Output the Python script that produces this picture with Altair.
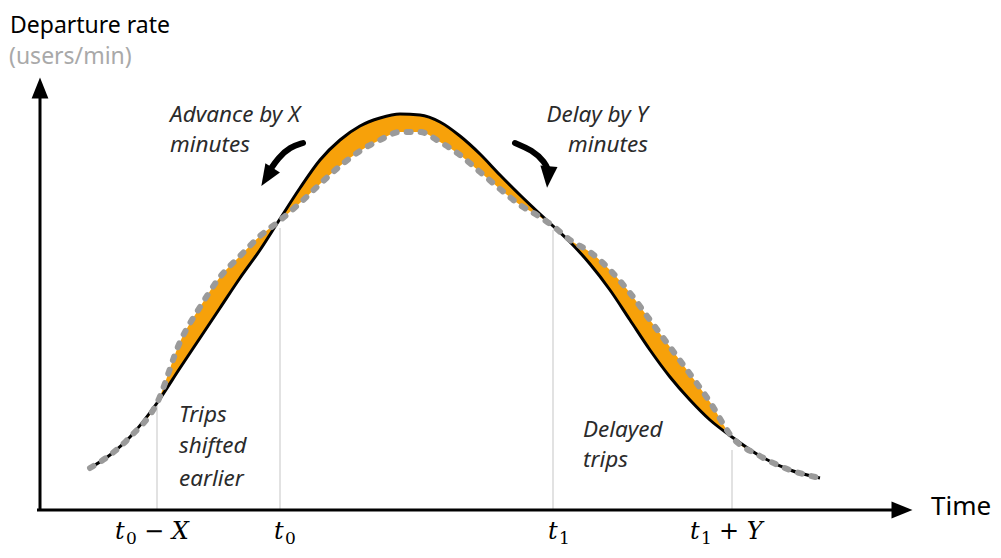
import altair as alt
import pandas as pd

# ---- curve data (time units, rate units) ----
time = [5.0, 7.0, 9.0, 11.7, 14.0, 16.0, 18.0, 20.0, 22.0, 23.8, 26.0, 28.0, 30.0,
        32.0, 34.0, 36.0, 38.0, 40.0, 42.0, 44.0, 46.0, 48.0, 50.0, 51.3, 53.0,
        55.0, 57.0, 59.0, 61.0, 63.0, 65.0, 67.0, 69.2, 72.0, 75.0, 78.0]
rate_original = [4.2, 5.5, 7.3, 10.7, 14.2, 17.2, 20.2, 23.2, 26.0, 28.8, 32.2, 35.0, 37.0,
                 38.4, 39.2, 39.6, 39.5, 38.8, 37.4, 35.6, 33.5, 31.5, 29.6, 28.4, 26.8,
                 24.6, 22.0, 19.0, 16.0, 13.3, 11.0, 9.0, 7.3, 5.4, 4.0, 3.2]
rate_shifted = [4.2, 5.5, 7.3, 10.7, 16.8, 20.3, 23.3, 25.4, 27.4, 28.8, 30.7, 32.6, 34.4,
                35.9, 37.0, 37.8, 37.8, 36.8, 35.5, 33.8, 32.1, 30.5, 29.3, 28.4, 27.0,
                25.8, 24.0, 21.7, 19.0, 16.3, 13.6, 10.8, 7.3, 5.4, 4.0, 3.2]

# ---- marked times on the time axis ----
mark_times = [11.7, 24.0, 51.3, 69.2]
mark_tops = [10.5, 28.2, 28.0, 6.0]
label_left = [7.5, 23.4, 50.8, 65.0]
label_main = ["t", "t", "t", "t"]
label_sub = ["0", "0", "1", "1"]
label_tail = ["− X", "", "", "+ Y"]

# ---- annotation texts ----
note_left_top = ["Advance by X", "minutes"]
note_right_top = ["Delay by Y", "minutes"]
note_left_bottom = ["Trips", "shifted", "earlier"]
note_right_bottom = ["Delayed", "trips"]

# ---- curved arrow paths ----
adv_arrow_t = [26.3, 25.0, 23.8, 23.0]
adv_arrow_r = [36.7, 36.3, 35.2, 34.0]
del_arrow_t = [47.5, 49.2, 50.5, 50.9]
del_arrow_r = [36.7, 36.0, 34.8, 33.8]

X = alt.Scale(domain=[-3.2, 95.3], nice=False, zero=False)
Y = alt.Scale(domain=[-4.0, 50.2], nice=False, zero=False)


def xe(f="t"):
    return alt.X(f"{f}:Q", scale=X, axis=None)


def ye(f="r"):
    return alt.Y(f"{f}:Q", scale=Y, axis=None)


curves = pd.DataFrame({"t": time, "r": rate_original, "r2": rate_shifted})

area = alt.Chart(curves).mark_area(color="#F7A10A", interpolate="monotone", opacity=1).encode(
    x=xe(), y=ye(), y2=alt.Y2("r2:Q"))
line_orig = alt.Chart(curves).mark_line(color="black", strokeWidth=3, interpolate="monotone").encode(
    x=xe(), y=ye())
line_new = alt.Chart(curves).mark_line(color="#9A9A9A", strokeWidth=6, interpolate="monotone",
                                       strokeDash=[4, 10], strokeCap="round").encode(
    x=xe(), y=ye("r2"))

marks = pd.DataFrame({"t": mark_times, "r": [0] * 4, "top": mark_tops})
vrules = alt.Chart(marks).mark_rule(color="#CFCFCF", strokeWidth=1.2).encode(
    x=xe(), y=ye(), y2=alt.Y2("top:Q"))

labels = pd.DataFrame({"t": label_left, "r": [-2.9] * 4, "m": label_main,
                       "s": label_sub, "e": label_tail})
lab_main = alt.Chart(labels).mark_text(font="DejaVu Serif", fontStyle="italic", fontSize=24,
                                       align="left", baseline="alphabetic", color="black").encode(
    x=xe(), y=ye(), text="m:N")
lab_sub = alt.Chart(labels).mark_text(font="DejaVu Serif", fontSize=17, align="left",
                                      baseline="alphabetic", color="black", dx=11, dy=5).encode(
    x=xe(), y=ye(), text="s:N")
lab_tail = alt.Chart(labels).mark_text(font="DejaVu Serif", fontStyle="italic", fontSize=24,
                                       align="left", baseline="alphabetic", color="black", dx=29).encode(
    x=xe(), y=ye(), text="e:N")

# axes
yaxis = alt.Chart(pd.DataFrame({"t": [0.0], "r": [-0.1], "r2": [42.0]})).mark_rule(
    color="black", strokeWidth=3).encode(x=xe(), y=ye(), y2=alt.Y2("r2:Q"))
xaxis = alt.Chart(pd.DataFrame({"t": [-0.3], "t2": [86.0], "r": [0.0]})).mark_rule(
    color="black", strokeWidth=3).encode(x=xe(), x2=alt.X2("t2:Q"), y=ye())
head_path = "M0,-1L0.8,1L-0.8,1Z"
yhead = alt.Chart(pd.DataFrame({"t": [0.0], "r": [42.2]})).mark_point(
    shape=head_path, filled=True, color="black", opacity=1, size=441, strokeWidth=0).encode(x=xe(), y=ye())
xhead = alt.Chart(pd.DataFrame({"t": [86.2], "r": [0.0]})).mark_point(
    shape=head_path, filled=True, color="black", opacity=1, size=441, strokeWidth=0, angle=90).encode(x=xe(), y=ye())

# curved arrows
arrows = pd.DataFrame({
    "t": adv_arrow_t + del_arrow_t,
    "r": adv_arrow_r + del_arrow_r,
    "k": ["adv"] * 4 + ["del"] * 4,
    "i": list(range(4)) * 2,
})
arrow_lines = alt.Chart(arrows).mark_line(color="black", strokeWidth=6, interpolate="basis",
                                          strokeCap="round").encode(
    x=xe(), y=ye(), detail="k:N", order="i:Q")
adv_head = alt.Chart(pd.DataFrame({"t": [22.7], "r": [33.3]})).mark_point(
    shape=head_path, filled=True, color="black", opacity=1, size=460, strokeWidth=0, angle=212).encode(x=xe(), y=ye())
del_head = alt.Chart(pd.DataFrame({"t": [50.8], "r": [33.3]})).mark_point(
    shape=head_path, filled=True, color="black", opacity=1, size=460, strokeWidth=0, angle=185).encode(x=xe(), y=ye())


def text_layer(texts, ts, rs, align, size, color, style="normal", font="Noto Sans"):
    df = pd.DataFrame({"t": ts, "r": rs, "s": texts})
    return alt.Chart(df).mark_text(align=align, baseline="alphabetic", fontSize=size, color=color,
                                   fontStyle=style, font=font).encode(x=xe(), y=ye(), text="s:N")


title1 = text_layer(["Departure rate"], [-3.0], [47.7], "left", 23, "black")
title2 = text_layer(["(users/min)"], [-3.1], [44.6], "left", 23, "#A9A9A9")
time_lbl = text_layer(["Time"], [89.1], [-0.5], "left", 26, "black")
n1 = text_layer(note_left_top, [13.0, 13.0], [38.8, 35.8], "left", 22.5, "#2B2B2B", "italic")
n2 = text_layer(note_right_top, [60.8, 60.8], [38.8, 35.8], "right", 22.5, "#2B2B2B", "italic")
n3 = text_layer(note_left_bottom, [13.9] * 3, [8.8, 5.7, 2.4], "left", 22.5, "#2B2B2B", "italic")
n4 = text_layer(note_right_bottom, [54.3] * 2, [7.3, 4.3], "left", 22.5, "#2B2B2B", "italic")

chart = alt.layer(
    vrules, area, line_orig, line_new, yaxis, xaxis, yhead, xhead,
    arrow_lines, adv_head, del_head, lab_main, lab_sub, lab_tail,
    title1, title2, time_lbl, n1, n2, n3, n4,
).properties(
    width=985, height=542, padding=0,
    autosize=alt.AutoSizeParams(type="none"),
    background="white",
).configure_view(stroke=None)

chart.save("out.html", embed_options={"renderer": "svg", "actions": False})
